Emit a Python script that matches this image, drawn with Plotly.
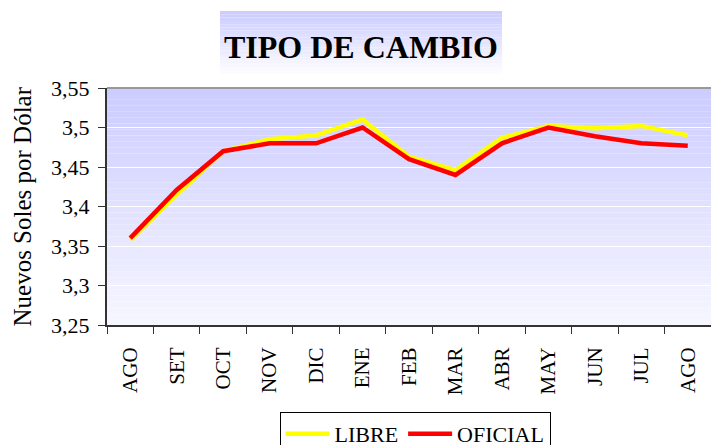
import plotly.graph_objects as go

months = ["AGO", "SET", "OCT", "NOV", "DIC", "ENE", "FEB", "MAR", "ABR", "MAY", "JUN", "JUL", "AGO"]
libre = [3.358, 3.415, 3.470, 3.485, 3.490, 3.510, 3.463, 3.446, 3.487, 3.502, 3.499, 3.502, 3.490]
oficial = [3.360, 3.421, 3.470, 3.480, 3.480, 3.500, 3.460, 3.440, 3.480, 3.500, 3.489, 3.480, 3.477]

xpos = list(range(len(months)))
FONT = "Liberation Serif, Times New Roman, serif"

fig = go.Figure()
fig.add_trace(go.Scatter(x=xpos, y=libre, name="LIBRE", mode="lines",
                         line=dict(color="#FFFF00", width=4.5)))
fig.add_trace(go.Scatter(x=xpos, y=oficial, name="OFICIAL", mode="lines",
                         line=dict(color="#FF0000", width=4.5)))

shapes = []
# gradient plot background
N = 40
for i in range(N):
    t = i / (N - 1)
    c = int(round(204 + (246 - 204) * t))
    shapes.append(dict(type="rect", xref="paper", yref="paper", x0=0, x1=1,
                       y0=1 - (i + 1) / N, y1=1 - i / N, layer="below",
                       line=dict(width=0), fillcolor=f"rgb({c},{c},255)"))
# gradient title box
tb_y1, tb_y0 = 1.3249, 1.0464
M = 20
for i in range(M):
    t = i / (M - 1)
    c = int(round(204 + (255 - 204) * t))
    y1 = tb_y1 - (tb_y1 - tb_y0) * i / M
    y0 = tb_y1 - (tb_y1 - tb_y0) * (i + 1) / M
    shapes.append(dict(type="rect", xref="paper", yref="paper", x0=0.1871, x1=0.654,
                       y0=y0, y1=y1, layer="below", line=dict(width=0),
                       fillcolor=f"rgb({c},{c},255)"))
# top border
shapes.append(dict(type="line", xref="paper", yref="paper", x0=0, x1=1, y0=1, y1=1,
                   line=dict(color="#999999", width=2)))

fig.update_layout(
    width=711, height=445,
    margin=dict(l=107, r=0, t=88, b=120),
    paper_bgcolor="white", plot_bgcolor="rgba(0,0,0,0)",
    separators=",.",
    font=dict(family=FONT, size=21, color="black"),
    shapes=shapes,
    showlegend=True,
    legend=dict(orientation="h", xref="paper", x=0.51, xanchor="center",
                yref="container", y=0.074, yanchor="top",
                bordercolor="black", borderwidth=1, bgcolor="white",
                font=dict(family=FONT, size=22), itemwidth=44, tracegroupgap=0),
    annotations=[
        dict(text="<b>TIPO DE CAMBIO</b>", xref="paper", yref="paper", x=0.4205, y=1.173,
             showarrow=False, font=dict(family=FONT, size=32, color="black"),
             xanchor="center", yanchor="middle"),
        dict(text="Nuevos Soles por Dólar", xref="paper", yref="paper", x=-0.1407, y=0.5,
             showarrow=False, textangle=-90, font=dict(family=FONT, size=25, color="black"),
             xanchor="center", yanchor="middle"),
    ],
)

fig.update_xaxes(
    range=[-0.5, len(months) - 0.5], tickmode="array", tickvals=xpos, ticktext=months,
    tickangle=-90, ticks="", showgrid=False, zeroline=False,
    showline=True, linecolor="#333333", linewidth=2,
    minor=dict(tickmode="array", tickvals=[v - 0.5 for v in xpos] + [len(months) - 0.5],
               ticks="outside", ticklen=7, tickcolor="#333333", tickwidth=1, showgrid=False),
    tickfont=dict(family=FONT, size=21), ticklabelstandoff=12, fixedrange=True,
)
fig.update_yaxes(
    range=[3.25, 3.55], dtick=0.05, tick0=3.25, ticks="outside", ticklen=7,
    tickcolor="#333333", tickwidth=1,
    showline=True, linecolor="#333333", linewidth=2,
    showgrid=True, gridcolor="white", gridwidth=1, zeroline=False,
    tickfont=dict(family=FONT, size=22), ticklabelstandoff=4, fixedrange=True,
)

fig.write_html("out.html", config={"displayModeBar": False},
               post_script="document.body.style.margin='0';document.body.style.padding='0';")
